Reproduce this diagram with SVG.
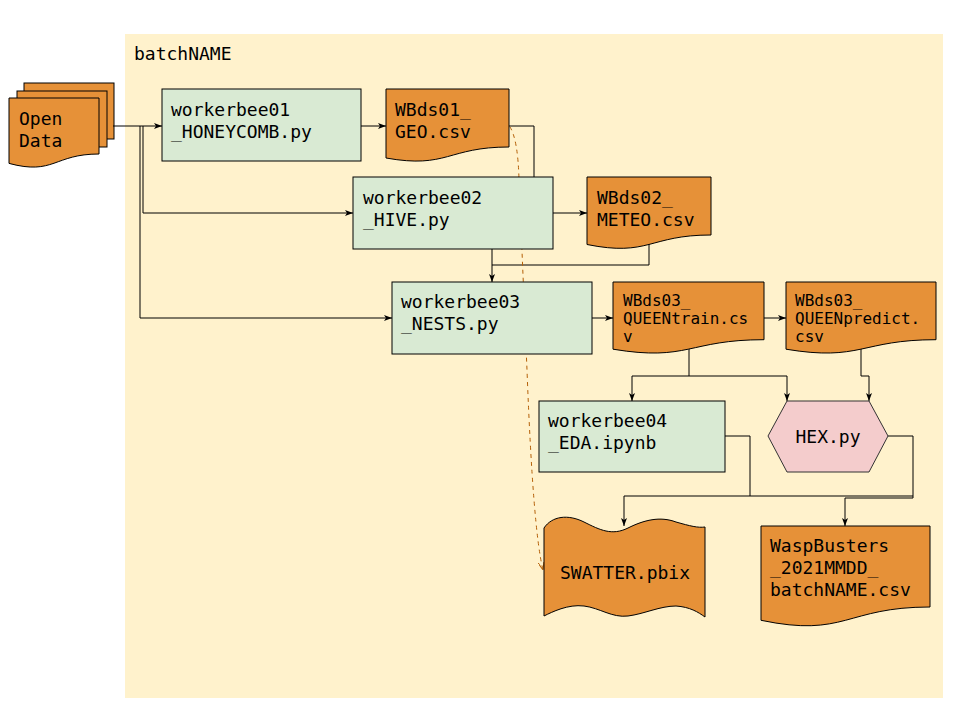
<svg xmlns="http://www.w3.org/2000/svg" width="960" height="720" viewBox="0 0 960 720">
<defs>
<style>
.t{font-family:"DejaVu Sans Mono","Liberation Mono",monospace;font-size:18px;fill:#000}
.s{font-size:16px}
.proc{fill:#d9ead3;stroke:#000;stroke-width:1}
.doc{fill:#e69138;stroke:#000;stroke-width:1}
.hex{fill:#f4cccc;stroke:#333;stroke-width:1}
.c{fill:none;stroke:#000;stroke-width:1}
.d{fill:none;stroke:#b45f06;stroke-width:1;stroke-dasharray:4 4}
</style>
<marker id="a" viewBox="0 0 8 6" refX="8" refY="3" markerWidth="8" markerHeight="6" markerUnits="userSpaceOnUse" orient="auto">
<path d="M0,0 L8,3 L0,6 L2,3 Z" fill="#000"/>
</marker>
<marker id="ao" viewBox="0 0 8 6" refX="8" refY="3" markerWidth="8" markerHeight="6" markerUnits="userSpaceOnUse" orient="auto">
<path d="M0,0 L8,3 L0,6" fill="none" stroke="#b45f06" stroke-width="1"/>
</marker>
</defs>
<rect x="0" y="0" width="960" height="720" fill="#fff"/>
<g id="batchNAME">
<rect x="125" y="34" width="818" height="664" fill="#fff2cc"/>
<text class="t" x="134" y="60">batchNAME</text>
</g>
<g id="opendata">
<rect x="24" y="83" width="90" height="56" class="doc"/>
<rect x="17" y="91" width="90" height="56" class="doc"/>
<path class="doc" d="M9,98 H99 V154 C54,154 54,175.5 9,163.4 Z"/>
<text class="t" x="19" y="125">Open</text>
<text class="t" x="19" y="147">Data</text>
</g>
<g id="connectors">
<path class="c" d="M113,126 H162" marker-end="url(#a)"/>
<path class="c" d="M143,126 V213 H353" marker-end="url(#a)"/>
<path class="c" d="M140,126 V318 H392" marker-end="url(#a)"/>
<path class="c" d="M361,126 H386" marker-end="url(#a)"/>
<path class="c" d="M509,126 H534 V177"/>
<path class="c" d="M553,213 H587" marker-end="url(#a)"/>
<path class="c" d="M649,240 V265 H492"/>
<path class="c" d="M492,249 V282" marker-end="url(#a)"/>
<path class="c" d="M592,318 H613" marker-end="url(#a)"/>
<path class="c" d="M764,318 H786" marker-end="url(#a)"/>
<path class="c" d="M689,346 V376 H632 V401" marker-end="url(#a)"/>
<path class="c" d="M689,376 H787 V401" marker-end="url(#a)"/>
<path class="c" d="M861,343 V376 H869 V401" marker-end="url(#a)"/>
<path class="c" d="M725,436 H750 V496 H624 V526" marker-end="url(#a)"/>
<path class="c" d="M888,436 H913 V496 H750"/>
<path class="c" d="M913,496 V498 H845 V526" marker-end="url(#a)"/>
<path class="d" d="M510,127 Q518,140 519,180 L527,370 Q533,530 543,570" marker-end="url(#ao)"/>
</g>
<g id="wb01">
<rect class="proc" x="162" y="89" width="199" height="72"/>
<text class="t" x="171" y="116">workerbee01</text>
<text class="t" x="171" y="138">_HONEYCOMB.py</text>
</g>
<g id="wbds01">
<path class="doc" d="M386,89 H509 V147 C447.5,147 447.5,169 386,158 Z"/>
<text class="t" x="395" y="116">WBds01_</text>
<text class="t" x="395" y="138">GEO.csv</text>
</g>
<g id="wb02">
<rect class="proc" x="353" y="177" width="200" height="72"/>
<text class="t" x="363" y="204">workerbee02</text>
<text class="t" x="363" y="226">_HIVE.py</text>
</g>
<g id="wbds02">
<path class="doc" d="M587,177 H711 V235 C649,235 649,257 587,244.5 Z"/>
<text class="t" x="597" y="204">WBds02_</text>
<text class="t" x="597" y="226">METEO.csv</text>
</g>
<g id="wb03">
<rect class="proc" x="392" y="282" width="200" height="72"/>
<text class="t" x="401" y="308">workerbee03</text>
<text class="t" x="401" y="330">_NESTS.py</text>
</g>
<g id="wbds03train">
<path class="doc" d="M613,282 H764 V339.7 C688.5,339.7 688.5,361.7 613,349.2 Z"/>
<text class="t s" x="623" y="306">WBds03_</text>
<text class="t s" x="623" y="324">QUEENtrain.cs</text>
<text class="t s" x="623" y="342">v</text>
</g>
<g id="wbds03predict">
<path class="doc" d="M786,282 H936 V339.7 C861,339.7 861,361.7 786,349.2 Z"/>
<text class="t s" x="795" y="306">WBds03_</text>
<text class="t s" x="795" y="324">QUEENpredict.</text>
<text class="t s" x="795" y="342">csv</text>
</g>
<g id="wb04">
<rect class="proc" x="539" y="401" width="186" height="71"/>
<text class="t" x="548" y="427">workerbee04</text>
<text class="t" x="548" y="449">_EDA.ipynb</text>
</g>
<g id="hex">
<polygon class="hex" points="768,436 787,401 869,401 888,436 869,472 787,472"/>
<text class="t" x="828" y="443" text-anchor="middle">HEX.py</text>
</g>
<g id="swatter">
<path class="doc" d="M544,528 C552,516 568,514 584,522 C600,530 612,536 628,528 C644,520 660,516 676,522 C690,526 698,528 705,527 V617 C698,612 690,607 676,606 C660,606 644,614 628,616 C612,618 600,608 584,606 C568,604 552,612 544,616 Z"/>
<text class="t" x="625" y="579" text-anchor="middle">SWATTER.pbix</text>
</g>
<g id="wasp">
<path class="doc" d="M761,526 H930 V607 C845.5,607 845.5,638 761,620.3 Z"/>
<text class="t" x="770" y="552">WaspBusters</text>
<text class="t" x="770" y="574">_2021MMDD_</text>
<text class="t" x="770" y="596">batchNAME.csv</text>
</g>
</svg>
